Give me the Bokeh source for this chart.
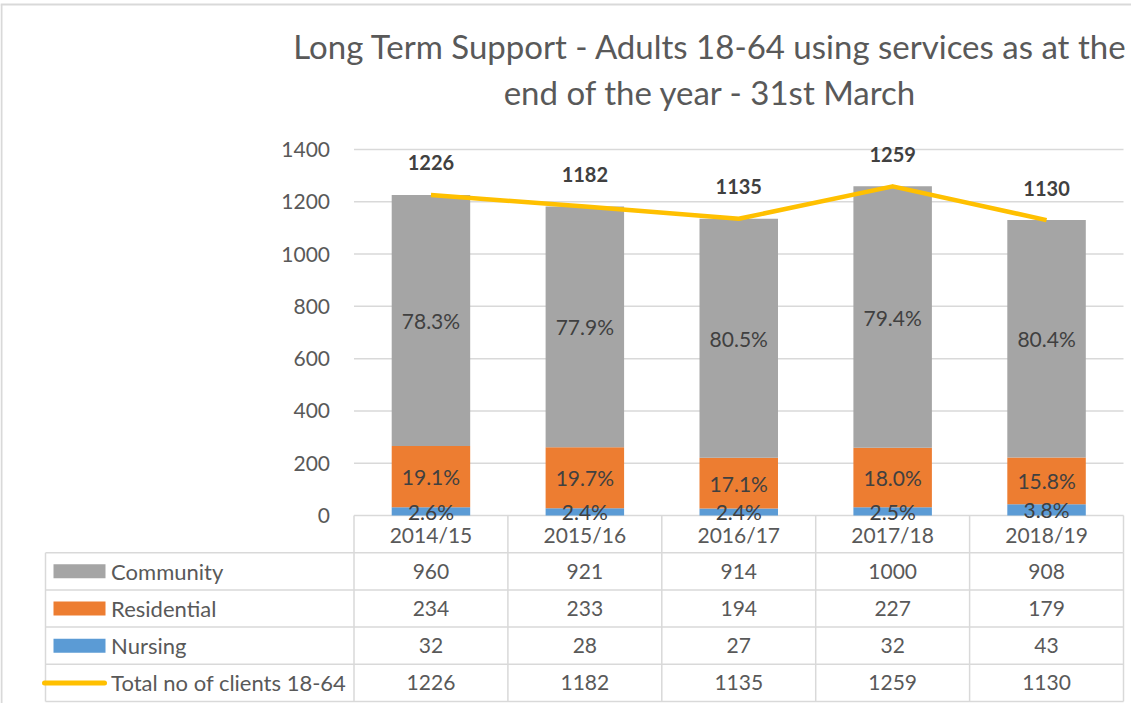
from bokeh.plotting import figure
from bokeh.models import Range1d, FixedTicker
from bokeh.core.properties import value
from bokeh.embed import file_html
from bokeh.resources import INLINE

# ---------------- data ----------------
years = ["2014/15", "2015/16", "2016/17", "2017/18", "2018/19"]
community = [960, 921, 914, 1000, 908]
residential = [234, 233, 194, 227, 179]
nursing = [32, 28, 27, 32, 43]
total = [1226, 1182, 1135, 1259, 1130]
series_names = ["Community", "Residential", "Nursing", "Total no of clients 18-64"]
y_ticks = [0, 200, 400, 600, 800, 1000, 1200, 1400]
title_lines = ["Long Term Support - Adults 18-64 using services as at the",
               "end of the year - 31st March"]

# ---------------- style ----------------
GREY, ORANGE, BLUE, GOLD = "#A5A5A5", "#ED7D31", "#5B9BD5", "#FFC000"
TXT, DARK, LINE = "#595959", "#404040", "#D9D9D9"
FONT = "Lato"

W, H = 1131, 703
# layout: page px -> data
COLW = 153.9          # px per category column
X0PX = 361.5 - 8      # canvas px of x=0
XS = -X0PX / COLW
XE = XS + W / COLW
PPU = 366 / 1400      # px per value unit
Y0PX = 523 - 8        # canvas px of y=0
YE = Y0PX / PPU
YS = YE - H / PPU
RH = 37.2             # table row height px
TE = Y0PX / RH
TS = TE - H / RH
LX0 = (53 - 361.5) / COLW   # left edge of table legend column

n = len(years)
xc = [i + 0.5 for i in range(n)]
res_top = [a + b for a, b in zip(nursing, residential)]
com_top = [a + b for a, b in zip(res_top, community)]

p = figure(width=W, height=H, output_backend="svg", toolbar_location=None,
           x_range=Range1d(XS, XE), y_range=Range1d(YS, YE))
p.min_border_left = p.min_border_right = p.min_border_top = p.min_border_bottom = 0
p.extra_y_ranges = {"table": Range1d(TS, TE)}
p.xaxis.visible = False
p.xgrid.visible = False
p.ygrid.visible = False
p.outline_line_color = None
p.background_fill_color = "white"
p.border_fill_color = "white"

ax = p.yaxis[0]
ax.fixed_location = 0
ax.ticker = FixedTicker(ticks=y_ticks)
ax.axis_line_color = None
ax.major_tick_line_color = None
ax.minor_tick_line_color = None
ax.major_tick_out = 0
ax.minor_tick_out = 0
ax.major_tick_in = 0
ax.major_label_standoff = 24
ax.major_label_text_font = FONT
ax.major_label_text_font_size = "21px"
ax.major_label_text_color = TXT

# outer chart border (left and top)
p.segment(x0=[XS + 1 / COLW, XS], y0=[YE - 4 / PPU, YE - 4 / PPU],
          x1=[XS + 1 / COLW, XE], y1=[YS, YE - 4 / PPU], line_color=LINE, line_width=2)

# gridlines at tick values
p.segment(x0=[0] * len(y_ticks), x1=[n] * len(y_ticks), y0=y_ticks, y1=y_ticks,
          line_color=LINE, line_width=1.5)

# stacked bars
BW = 0.51
p.vbar(x=xc, width=BW, bottom=0, top=nursing, fill_color=BLUE, line_color=None)
p.vbar(x=xc, width=BW, bottom=nursing, top=res_top, fill_color=ORANGE, line_color=None)
p.vbar(x=xc, width=BW, bottom=res_top, top=com_top, fill_color=GREY, line_color=None)

# total line
p.line(x=xc, y=total, line_color=GOLD, line_width=4.5, line_join="round")

# percentage labels
def pct(vals):
    return ["%.1f%%" % (100.0 * v / t) for v, t in zip(vals, total)]

for vals, lo, hi in [(nursing, [0] * n, nursing), (residential, nursing, res_top),
                     (community, res_top, com_top)]:
    p.text(x=xc, y=[(a + b) / 2 for a, b in zip(lo, hi)], text=pct(vals),
           text_align="center", text_baseline="middle", text_color=DARK,
           text_font=value(FONT), text_font_size="21px")

# total labels
p.text(x=xc, y=total, text=[str(t) for t in total], y_offset=-32,
       text_align="center", text_baseline="middle", text_color=DARK,
       text_font=value(FONT), text_font_size="20px", text_font_style="bold")

# title
TX = (718 - 361.5) / COLW
p.text(x=[TX, TX], y=[YE - (53 - 8) / PPU, YE - (99 - 8) / PPU], text=title_lines,
       text_align="center", text_baseline="middle", text_color=TXT,
       text_font=value(FONT), text_font_size="33px")

# ---------------- data table ----------------
cols = list(range(n + 1))
p.segment(x0=cols, x1=cols, y0=[0] * len(cols), y1=[-1] * len(cols),
          line_color=LINE, line_width=1.5, y_range_name="table")
vx = [LX0] + cols
nrow = len(series_names)
p.segment(x0=vx, x1=vx, y0=[-1] * len(vx), y1=[-1 - nrow] * len(vx),
          line_color=LINE, line_width=1.5, y_range_name="table")
hy = [-1 - k for k in range(nrow + 1)]
p.segment(x0=[LX0] * len(hy), x1=[n] * len(hy), y0=hy, y1=hy,
          line_color=LINE, line_width=1.5, y_range_name="table")

p.text(x=xc, y=[-0.5] * n, text=years, text_align="center", text_baseline="middle",
       text_color=TXT, text_font=value(FONT), text_font_size="21px", y_range_name="table")

rows = [community, residential, nursing, total]
for k, vals in enumerate(rows):
    p.text(x=xc, y=[-1.5 - k] * n, text=[str(v) for v in vals], text_align="center",
           text_baseline="middle", text_color=TXT, text_font=value(FONT),
           text_font_size="21px", y_range_name="table")

row_y = [-1.5 - k for k in range(nrow)]
p.text(x=[(118.6 - 361.5) / COLW] * nrow, y=row_y, text=series_names, text_align="left",
       text_baseline="middle", text_color=TXT, text_font=value(FONT),
       text_font_size="22px", y_range_name="table")

SWX = (87 - 361.5) / COLW
p.rect(x=[SWX] * 3, y=row_y[:3], width=52 / COLW, height=14 / RH,
       fill_color=[GREY, ORANGE, BLUE], line_color=None, y_range_name="table")
p.line(x=[(52 - 361.5) / COLW, (112 - 361.5) / COLW], y=[row_y[3]] * 2,
       line_color=GOLD, line_width=5, line_cap="round", y_range_name="table")

open("out.html", "w").write(file_html(p, INLINE))
